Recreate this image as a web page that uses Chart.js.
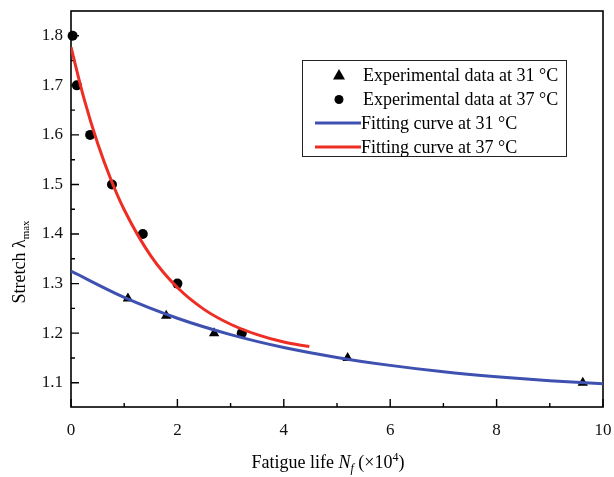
<!DOCTYPE html>
<html>
<head>
<meta charset="utf-8">
<script src="https://cdn.jsdelivr.net/npm/chart.js@4/dist/chart.umd.min.js"></script>
<style>
  html, body { margin: 0; padding: 0; background: #fff; }
  #wrap { width: 614px; height: 477px; position: relative; }
</style>
</head>
<body>
<div id="wrap"><canvas id="fatigueChart"></canvas></div>
<script>
// Experimental points (Nf in 10^4 cycles, stretch)
const exp31X = [1.07, 1.79, 2.69, 5.2, 9.62];
const exp31Y = [1.27, 1.235, 1.2, 1.15, 1.1];
const exp37X = [0.03, 0.11, 0.36, 0.77, 1.35, 2.0, 3.21];
const exp37Y = [1.8, 1.7, 1.6, 1.5, 1.4, 1.3, 1.2];

// Fitting curves
const fit31X = [0, 1, 2, 3, 4, 5, 6, 7, 8, 9, 10];
const fit31Y = [1.325, 1.272, 1.230, 1.197, 1.171, 1.151, 1.135, 1.122, 1.112, 1.104, 1.098];
const fit37X = [0, 0.25, 0.5, 0.75, 1, 1.5, 2, 2.5, 3, 3.5, 4, 4.48];
const fit37Y = [1.777, 1.671, 1.583, 1.510, 1.449, 1.356, 1.292, 1.248, 1.218, 1.197, 1.182, 1.173];

const xMajor = [0, 2, 4, 6, 8, 10];
const xMinor = [1, 3, 5, 7, 9];
const yMajor = [1.1, 1.2, 1.3, 1.4, 1.5, 1.6, 1.7, 1.8];
const yMinor = [1.15, 1.25, 1.35, 1.45, 1.55, 1.65, 1.75];

const legendLabels = ['Experimental data at 31 \u00B0C', 'Experimental data at 37 \u00B0C',
                      'Fitting curve at 31 \u00B0C', 'Fitting curve at 37 \u00B0C'];

const BLUE = '#3f51b0';
const RED = '#ee2e24';
const SERIF = '"Liberation Serif", "Times New Roman", serif';

const pts = (xs, ys) => xs.map((x, i) => ({ x: x, y: ys[i] }));

// frame + inward ticks, drawn under the markers
const framePlugin = {
  id: 'frame',
  beforeDatasetsDraw(chart) {
    const { ctx, chartArea: a, scales: { x, y } } = chart;
    ctx.save();
    ctx.strokeStyle = '#000';
    ctx.lineWidth = 1.6;
    ctx.strokeRect(a.left, a.top, a.right - a.left, a.bottom - a.top);
    ctx.lineWidth = 1.4;
    ctx.beginPath();
    xMajor.forEach(v => { const px = x.getPixelForValue(v); ctx.moveTo(px, a.bottom); ctx.lineTo(px, a.bottom - 8); });
    xMinor.forEach(v => { const px = x.getPixelForValue(v); ctx.moveTo(px, a.bottom); ctx.lineTo(px, a.bottom - 4); });
    yMajor.forEach(v => { const py = y.getPixelForValue(v); ctx.moveTo(a.left, py); ctx.lineTo(a.left + 8, py); });
    yMinor.forEach(v => { const py = y.getPixelForValue(v); ctx.moveTo(a.left, py); ctx.lineTo(a.left + 4, py); });
    ctx.stroke();
    ctx.restore();
  }
};

// axis titles (with sub/superscripts) and the boxed legend
const textPlugin = {
  id: 'texts',
  afterDraw(chart) {
    const { ctx } = chart;
    ctx.save();
    ctx.fillStyle = '#000';
    ctx.textBaseline = 'alphabetic';

    // x title: Fatigue life Nf (×10^4)
    const parts = [
      { t: 'Fatigue life ', f: '18px ' + SERIF, dy: 0 },
      { t: 'N', f: 'italic 18px ' + SERIF, dy: 0 },
      { t: 'f', f: 'italic 12px ' + SERIF, dy: 4 },
      { t: ' (\u00D710', f: '18px ' + SERIF, dy: 0 },
      { t: '4', f: '12px ' + SERIF, dy: -7 },
      { t: ')', f: '18px ' + SERIF, dy: 0 }
    ];
    let w = 0;
    parts.forEach(p => { ctx.font = p.f; w += ctx.measureText(p.t).width; });
    let cx = 328 - w / 2;
    parts.forEach(p => { ctx.font = p.f; ctx.fillText(p.t, cx, 468 + p.dy); cx += ctx.measureText(p.t).width; });

    // y title: Stretch λmax (rotated)
    ctx.translate(25, 262);
    ctx.rotate(-Math.PI / 2);
    const yparts = [
      { t: 'Stretch \u03BB', f: '18px ' + SERIF, dy: 0 },
      { t: 'max', f: '11px ' + SERIF, dy: 4 }
    ];
    w = 0;
    yparts.forEach(p => { ctx.font = p.f; w += ctx.measureText(p.t).width; });
    cx = -w / 2;
    yparts.forEach(p => { ctx.font = p.f; ctx.fillText(p.t, cx, p.dy); cx += ctx.measureText(p.t).width; });
    ctx.setTransform(1, 0, 0, 1, 0, 0);

    // legend box
    ctx.strokeStyle = '#222';
    ctx.lineWidth = 1;
    ctx.strokeRect(302.5, 60.5, 264, 96);
    ctx.font = '18px ' + SERIF;
    ctx.textBaseline = 'middle';
    const rows = [75, 99.5, 123, 147];
    legendLabels.forEach((lab, i) => {
      const ry = rows[i];
      if (i === 0) {
        ctx.beginPath();
        ctx.moveTo(339, ry - 6); ctx.lineTo(345, ry + 4.5); ctx.lineTo(333, ry + 4.5);
        ctx.closePath(); ctx.fill();
      } else if (i === 1) {
        ctx.beginPath(); ctx.arc(339, ry, 4.5, 0, Math.PI * 2); ctx.fill();
      } else {
        ctx.strokeStyle = i === 2 ? BLUE : RED;
        ctx.lineWidth = 3;
        ctx.beginPath(); ctx.moveTo(315, ry); ctx.lineTo(361, ry); ctx.stroke();
      }
      ctx.fillText(lab, i < 2 ? 363 : 361, ry + 1);
    });
    ctx.restore();
  }
};

new Chart(document.getElementById('fatigueChart'), {
  type: 'scatter',
  data: {
    datasets: [
      { label: legendLabels[2], data: pts(fit31X, fit31Y), showLine: true, borderColor: BLUE,
        borderWidth: 3, pointRadius: 0, tension: 0.4, cubicInterpolationMode: 'monotone' },
      { label: legendLabels[3], data: pts(fit37X, fit37Y), showLine: true, borderColor: RED,
        borderWidth: 3, pointRadius: 0, tension: 0.4, cubicInterpolationMode: 'monotone' },
      { label: legendLabels[0], data: pts(exp31X, exp31Y), pointStyle: 'triangle',
        pointRadius: 6, backgroundColor: '#000', borderColor: '#000', borderWidth: 0, clip: false },
      { label: legendLabels[1], data: pts(exp37X, exp37Y), pointStyle: 'circle',
        pointRadius: 5, backgroundColor: '#000', borderColor: '#000', borderWidth: 0, clip: false }
    ]
  },
  options: {
    responsive: true,
    maintainAspectRatio: false,
    animation: false,
    layout: { padding: { top: 11, right: 11, left: 0, bottom: 0 } },
    plugins: { legend: { display: false }, tooltip: { enabled: false } },
    scales: {
      x: {
        type: 'linear', min: 0, max: 10,
        afterFit: s => { s.height = 70; s.paddingLeft = 0; s.paddingRight = 0; },
        afterBuildTicks: s => { s.ticks = xMajor.map(v => ({ value: v })); },
        grid: { display: false, drawTicks: false }, border: { display: false },
        ticks: { color: '#111', padding: 13, maxRotation: 0, font: { family: SERIF, size: 17 } }
      },
      y: {
        type: 'linear', min: 1.051, max: 1.85,
        afterFit: s => { s.width = 71; s.paddingTop = 0; s.paddingBottom = 0; },
        afterBuildTicks: s => { s.ticks = yMajor.map(v => ({ value: v })); },
        grid: { display: false, drawTicks: false }, border: { display: false },
        ticks: { color: '#111', padding: 8, font: { family: SERIF, size: 17 },
                 callback: v => v.toFixed(1) }
      }
    }
  },
  plugins: [framePlugin, textPlugin]
});
</script>
</body>
</html>
